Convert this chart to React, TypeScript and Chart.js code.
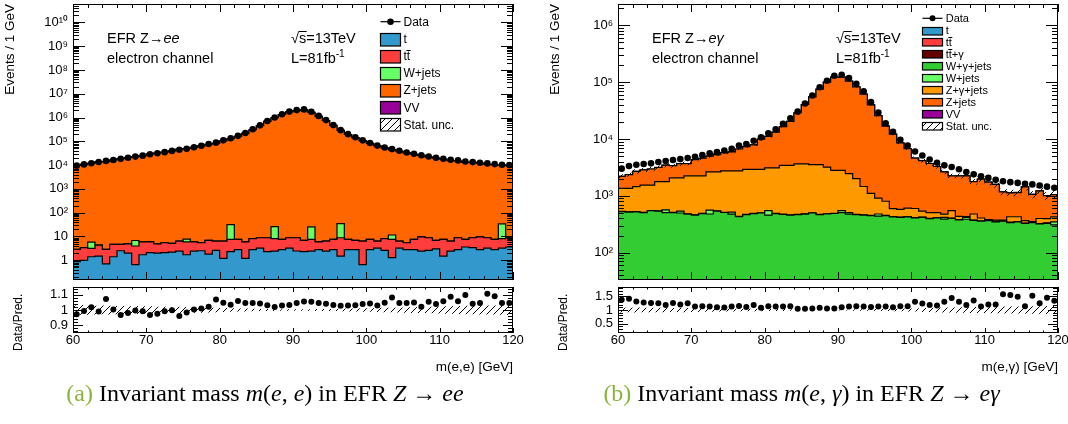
import React, { useEffect, useRef } from 'react';
import { Chart, registerables } from 'chart.js';

Chart.register(...registerables);

const SANS = '"Liberation Sans", Arial, Helvetica, sans-serif';
Chart.defaults.font.family = SANS;

// ---------- axes / binning ----------
const BIN_EDGES = [60, 61, 62, 63, 64, 65, 66, 67, 68, 69, 70, 71, 72, 73, 74, 75, 76, 77, 78, 79, 80, 81, 82, 83, 84, 85, 86, 87, 88, 89, 90, 91, 92, 93, 94, 95, 96, 97, 98, 99, 100, 101, 102, 103, 104, 105, 106, 107, 108, 109, 110, 111, 112, 113, 114, 115, 116, 117, 118, 119, 120];
const X_TICKS = [60, 70, 80, 90, 100, 110, 120];
const Y_TICKS_A = [1, 10, 1e2, 1e3, 1e4, 1e5, 1e6, 1e7, 1e8, 1e9, 1e10];
const Y_TICKS_B = [1e2, 1e3, 1e4, 1e5, 1e6];
const RATIO_TICKS_A = [0.9, 1, 1.1];
const RATIO_TICKS_B = [0.5, 1, 1.5];

// ---------- (a) EFR Z -> ee ----------
const LABELS_A = ['t', 'tt\u0304', 'W+jets', 'Z+jets', 'VV'];
const COLORS_A = ['#3399cc', '#ff3d3d', '#66ff66', '#ff6600', '#990099'];
const T_A = [0.88, 1.0, 1.4, 1.5, 0.7, 1.4, 2.5, 2.0, 0.65, 1.7, 2.1, 2.0, 2.1, 2.2, 2.4, 1.7, 2.4, 2.5, 1.8, 2.6, 1.2, 2.3, 2.8, 1.2, 2.8, 3.2, 2.3, 2.4, 2.8, 3.2, 2.45, 2.3, 2.4, 2.8, 2.4, 2.8, 1.5, 2.8, 2.8, 0.65, 2.8, 3.2, 2.6, 1.3, 3.2, 2.8, 2.8, 2.4, 2.6, 3.0, 1.5, 2.4, 2.8, 3.6, 3.4, 2.8, 3.2, 2.8, 3.2, 3.6];
const TT_A = [1.98, 2.37, 1.75, 2.8, 2.16, 3.22, 2.12, 2.9, 3.31, 4.2, 3.8, 2.9, 3.33, 2.9, 4.0, 4.2, 3.5, 2.93, 5.1, 3.8, 5.2, 5.2, 4.7, 4.7, 5.3, 5.6, 6.5, 5.7, 4.7, 5.6, 6.35, 4.6, 5.1, 3.1, 4.0, 4.7, 7.3, 4.7, 4.1, 5.75, 4.7, 3.2, 5.5, 6.2, 3.2, 2.63, 4.7, 7.1, 6.2, 3.9, 6.0, 4.0, 6.0, 3.9, 5.4, 6.7, 5.6, 4.7, 4.9, 5.2];
const W_A = [0.01, 0.01, 2.6, 0.01, 0.01, 0.01, 0.01, 0.01, 2.8, 0.01, 0.01, 0.01, 0.01, 0.01, 0.01, 1.8, 0.01, 0.01, 0.01, 0.01, 0.01, 24, 0.01, 0.01, 0.01, 0.01, 0.01, 18, 0.01, 0.01, 0.01, 0.01, 18, 0.01, 0.01, 0.01, 26, 0.01, 0.01, 0.01, 0.01, 0.01, 0.01, 4, 0.01, 0.01, 0.01, 0.01, 0.01, 0.01, 0.01, 0.01, 0.01, 0.01, 0.01, 0.01, 0.01, 0.01, 26, 0.01];
const ZJ_A = [9760, 10760, 11800, 13600, 14000, 16400, 18900, 20900, 22900, 25200, 29500, 32300, 35300, 39600, 45800, 49800, 55800, 64400, 75300, 82300, 105000, 129000, 161000, 215000, 306000, 451000, 689000, 980000, 1340000, 1720000, 1960000, 2090000, 1660000, 1120000, 749000, 465000, 287000, 194000, 144000, 106000, 81500, 64100, 52500, 43400, 38300, 32500, 28600, 25400, 21800, 19700, 17600, 15400, 14900, 12900, 12900, 12100, 10700, 10100, 9950, 9570];
const VV_A = [0.12, 0.15, 0.11, 0.18, 0.14, 0.2, 0.16, 0.13, 0.19, 0.22, 0.17, 0.21, 0.25, 0.19, 0.23, 0.28, 0.26, 0.31, 0.35, 0.42, 0.5, 0.61, 0.78, 1.0, 1.4, 2.1, 3.0, 4.2, 5.6, 6.8, 7.1, 6.5, 5.2, 3.8, 2.6, 1.8, 1.2, 0.85, 0.62, 0.48, 0.39, 0.33, 0.3, 0.27, 0.25, 0.22, 0.24, 0.2, 0.19, 0.21, 0.18, 0.17, 0.2, 0.16, 0.15, 0.18, 0.14, 0.16, 0.13, 0.15];
const DATA_A = [9500, 10700, 12000, 13500, 15000, 16500, 18300, 20500, 22800, 25000, 28500, 31500, 35000, 39500, 44000, 49000, 56000, 65000, 77000, 88000, 110000, 134000, 170000, 225000, 320000, 470000, 710000, 1000000, 1380000, 1780000, 2050000, 2200000, 1750000, 1170000, 780000, 480000, 295000, 200000, 148000, 110000, 85000, 66000, 55000, 47000, 40000, 34000, 30000, 26000, 23000, 20500, 18600, 16700, 15800, 14200, 13400, 12600, 11800, 11000, 10400, 10000];
const RATIO_A = [0.973, 0.994, 1.018, 0.990, 1.071, 1.004, 0.967, 0.980, 0.996, 0.992, 0.967, 0.976, 0.992, 0.998, 0.961, 0.984, 1.004, 1.010, 1.022, 1.069, 1.047, 1.035, 1.059, 1.045, 1.045, 1.043, 1.031, 1.020, 1.029, 1.033, 1.045, 1.055, 1.053, 1.045, 1.041, 1.033, 1.027, 1.029, 1.031, 1.039, 1.043, 1.029, 1.047, 1.082, 1.045, 1.045, 1.049, 1.022, 1.053, 1.039, 1.057, 1.086, 1.057, 1.098, 1.041, 1.045, 1.106, 1.090, 1.045, 1.045];
const UNC_A = [0.030, 0.032, 0.030, 0.028, 0.030, 0.027, 0.026, 0.025, 0.026, 0.024, 0.024, 0.022, 0.022, 0.020, 0.021, 0.020, 0.018, 0.018, 0.016, 0.015, 0.013, 0.012, 0.010, 0.009, 0.008, 0.007, 0.006, 0.006, 0.005, 0.005, 0.005, 0.005, 0.005, 0.006, 0.006, 0.007, 0.008, 0.009, 0.010, 0.011, 0.012, 0.013, 0.014, 0.015, 0.016, 0.018, 0.019, 0.020, 0.022, 0.023, 0.024, 0.025, 0.026, 0.027, 0.028, 0.029, 0.030, 0.030, 0.031, 0.032];

// ---------- (b) EFR Z -> e gamma ----------
const LABELS_B = ['t', 'tt\u0304', 'tt\u0304+\u03b3', 'W+\u03b3+jets', 'W+jets', 'Z+\u03b3+jets', 'Z+jets', 'VV'];
const COLORS_B = ['#3399cc', '#ff3d3d', '#660000', '#33cc33', '#66ff66', '#ff9900', '#ff6600', '#990099'];
const T_B = [1.2, 2.1, 1.5, 2.8, 1.9, 2.4, 1.1, 2.6, 3.0, 1.7, 2.2, 1.4, 2.9, 2.0, 2.5, 1.6, 3.1, 2.3, 1.8, 2.7, 2.4, 1.3, 2.8, 3.2, 2.1, 1.9, 2.6, 3.0, 2.2, 2.5, 2.9, 2.0, 1.6, 2.7, 2.3, 3.1, 1.8, 2.4, 2.8, 1.5, 2.6, 2.1, 3.0, 1.9, 2.4, 2.7, 1.4, 2.2, 2.9, 2.5, 1.7, 2.8, 2.3, 3.2, 2.0, 2.6, 1.8, 2.4, 3.0, 2.2];
const TT_B = [4.1, 3.6, 5.2, 4.4, 3.9, 5.8, 4.7, 3.3, 5.1, 4.6, 4.0, 5.5, 4.8, 3.7, 5.3, 4.2, 4.9, 5.6, 3.8, 4.5, 5.0, 4.3, 5.7, 4.1, 3.6, 5.2, 4.8, 4.4, 5.9, 4.6, 3.9, 5.1, 4.7, 5.4, 4.0, 4.5, 5.3, 3.8, 4.9, 5.6, 4.2, 4.8, 3.7, 5.0, 4.6, 5.5, 4.1, 4.3, 5.2, 3.9, 4.7, 5.4, 4.0, 4.4, 5.1, 3.6, 4.8, 5.7, 4.2, 4.5];
const TTG_B = [0.8, 1.1, 0.6, 0.9, 1.3, 0.7, 1.0, 1.2, 0.8, 0.9, 1.1, 0.7, 1.4, 0.9, 1.0, 0.8, 1.2, 0.6, 1.1, 1.3, 0.9, 1.0, 1.2, 0.8, 1.4, 1.1, 0.9, 1.3, 1.0, 1.2, 0.8, 1.1, 0.7, 1.0, 1.3, 0.9, 0.8, 1.2, 1.0, 0.7, 1.1, 0.9, 1.2, 0.8, 1.0, 1.3, 0.7, 0.9, 1.1, 0.8, 1.0, 1.2, 0.9, 0.7, 1.1, 0.8, 1.3, 1.0, 0.9, 1.2];
const WG_B = [520, 510, 515, 500, 540, 530, 500, 500, 490, 470, 450, 480, 470, 530, 500, 470, 420, 460, 480, 490, 450, 480, 460, 450, 460, 470, 490, 460, 470, 480, 500, 470, 460, 450, 440, 430, 440, 420, 410, 420, 400, 410, 390, 400, 380, 390, 370, 380, 360, 350, 360, 340, 350, 330, 340, 320, 330, 310, 320, 300];
const W_B = [5, 5, 5, 5, 5, 5, 60, 5, 40, 5, 5, 5, 80, 5, 5, 40, 5, 5, 5, 5, 90, 5, 5, 5, 5, 5, 5, 5, 5, 5, 40, 30, 5, 5, 5, 40, 5, 5, 5, 5, 5, 5, 5, 5, 30, 5, 5, 30, 5, 5, 5, 5, 5, 5, 5, 5, 5, 5, 5, 40];
const ZG_B = [825, 835, 920, 1035, 995, 1235, 1210, 1565, 1540, 1765, 1785, 1755, 2080, 2095, 2235, 2230, 2315, 2455, 2435, 2425, 2550, 2605, 2975, 2985, 3165, 3155, 3035, 3065, 2725, 2315, 2260, 1950, 1535, 995, 655, 436, 350, 165, 155, 175, 185, 116, 105, 95, 60, 145, 55, 15, 105, 45, 10, 20, 10, 85, 75, 35, 10, 75, 65, 80];
const ZJ_B = [839, 1009, 1238, 1312, 1418, 1374, 1690, 1308, 1606, 1456, 2089, 2337, 2374, 2697, 3007, 3216, 3924, 4423, 4990, 6987, 8002, 10154, 13004, 16983, 25365, 36848, 51531, 71748, 97084, 120190, 119705, 102439, 80923, 60061, 38936, 24961, 16094, 11570, 7995, 6134, 4024, 3609, 3197, 2774, 2162, 1685, 1812, 1805, 1298, 1564, 1363, 1220, 806, 698, 715, 1075, 704, 826, 607, 617];
const VV_B = [3.1, 2.6, 3.8, 2.9, 3.4, 4.1, 2.7, 3.5, 3.0, 3.9, 3.3, 4.4, 3.6, 3.1, 4.8, 3.9, 4.2, 5.0, 4.6, 5.3, 5.8, 6.1, 6.9, 7.5, 8.8, 10.2, 12.5, 15.1, 18.3, 20.6, 21.0, 19.2, 16.4, 13.1, 10.6, 8.9, 7.4, 6.3, 5.6, 5.1, 4.7, 4.3, 4.0, 3.8, 3.5, 3.3, 3.6, 3.1, 2.9, 3.2, 2.8, 3.0, 2.7, 2.5, 2.9, 2.6, 2.4, 2.7, 2.3, 2.5];
const DATA_B = [3010, 3350, 3530, 3630, 3730, 3930, 4090, 4260, 4430, 4620, 4870, 5200, 5630, 5870, 6270, 6700, 7650, 8180, 9350, 10700, 12600, 14900, 18500, 23200, 30300, 42300, 58200, 81300, 106000, 130000, 135000, 118000, 94200, 69200, 44600, 29100, 19000, 13400, 9730, 7650, 6030, 5130, 4370, 3830, 3440, 3210, 2930, 2630, 2390, 2210, 2070, 1910, 1810, 1740, 1690, 1630, 1590, 1520, 1450, 1390];
const RATIO_B = [1.375, 1.420, 1.318, 1.273, 1.261, 1.250, 1.182, 1.261, 1.205, 1.250, 1.125, 1.136, 1.125, 1.102, 1.091, 1.125, 1.148, 1.114, 1.182, 1.080, 1.136, 1.125, 1.125, 1.136, 1.045, 1.045, 1.057, 1.080, 1.057, 1.057, 1.102, 1.125, 1.136, 1.125, 1.114, 1.125, 1.125, 1.102, 1.136, 1.136, 1.307, 1.239, 1.182, 1.170, 1.307, 1.443, 1.307, 1.182, 1.352, 1.125, 1.205, 1.205, 1.580, 1.557, 1.489, 1.136, 1.523, 1.250, 1.455, 1.341];
const UNC_B = [0.09, 0.085, 0.09, 0.08, 0.085, 0.08, 0.08, 0.075, 0.08, 0.07, 0.07, 0.065, 0.065, 0.06, 0.06, 0.055, 0.05, 0.05, 0.045, 0.045, 0.04, 0.035, 0.035, 0.03, 0.03, 0.025, 0.025, 0.02, 0.02, 0.02, 0.02, 0.02, 0.025, 0.025, 0.03, 0.035, 0.04, 0.045, 0.05, 0.055, 0.06, 0.07, 0.075, 0.08, 0.09, 0.09, 0.1, 0.1, 0.11, 0.11, 0.12, 0.12, 0.13, 0.13, 0.13, 0.14, 0.14, 0.14, 0.15, 0.15];

const CAPTION_GREEN = '#8ab43c';

// ---------- helpers ----------
type Part = { t: string; italic?: boolean; sup?: boolean; over?: boolean };

const stepPts = (vals: number[]) => BIN_EDGES.map((x, i) => ({ x, y: vals[Math.min(i, vals.length - 1)] }));
const centerPts = (vals: number[]) => vals.map((y, i) => ({ x: (BIN_EDGES[i] + BIN_EDGES[i + 1]) / 2, y }));
const SUP = '\u2070\u00b9\u00b2\u00b3\u2074\u2075\u2076\u2077\u2078\u2079';
const fmtPow = (v: number) => {
  const e = Math.round(Math.log10(v));
  if (e === 0) return '1';
  if (e === 1) return '10';
  return '10' + String(e).split('').map((d) => SUP[Number(d)]).join('');
};

function makeHatch(size = 7) {
  const c = document.createElement('canvas');
  c.width = size;
  c.height = size;
  const g = c.getContext('2d')!;
  g.strokeStyle = '#000';
  g.lineWidth = 1;
  g.beginPath();
  for (const o of [-size, 0, size]) {
    g.moveTo(o, size);
    g.lineTo(o + size, 0);
  }
  g.stroke();
  return g.createPattern(c, 'repeat')!;
}

function parseLabel(s: string): Part[] {
  const parts: Part[] = [];
  let buf = '';
  for (let i = 0; i < s.length; i++) {
    if (s[i + 1] === '\u0304') {
      if (buf) parts.push({ t: buf });
      buf = '';
      parts.push({ t: s[i], over: true });
      i++;
    } else buf += s[i];
  }
  if (buf) parts.push({ t: buf });
  return parts;
}

function drawRich(ctx: CanvasRenderingContext2D, x: number, y: number, parts: Part[], size: number) {
  let cx = x;
  for (const p of parts) {
    const fs = p.sup ? size * 0.7 : size;
    ctx.font = `${p.italic ? 'italic ' : ''}${fs}px ${SANS}`;
    const yy = p.sup ? y - size * 0.45 : y;
    ctx.fillText(p.t, cx, yy);
    const w = ctx.measureText(p.t).width;
    if (p.over) {
      ctx.save();
      ctx.lineWidth = 1;
      ctx.beginPath();
      const ly = Math.round(y - size * 0.86) + 0.5;
      ctx.moveTo(cx - 0.5, ly);
      ctx.lineTo(cx + w + 0.5, ly);
      ctx.stroke();
      ctx.restore();
    }
    cx += w;
  }
}

const noPad = (s: any) => {
  s.paddingTop = 0;
  s.paddingBottom = 0;
  s.paddingLeft = 0;
  s.paddingRight = 0;
};

function framePlugin(cfg: any) {
  return {
    id: 'rootFrame',
    afterDatasetsDraw(chart: any) {
      const { ctx, chartArea: a, scales } = chart;
      const x = scales.x;
      const y = scales.y;
      ctx.save();
      ctx.strokeStyle = '#000';
      ctx.lineWidth = 1;
      ctx.beginPath();
      for (let v = 60; v <= 120.001; v += 2) {
        const px = Math.round(x.getPixelForValue(v)) + 0.5;
        const major = Math.abs(v % 10) < 1e-6;
        const len = major ? cfg.xMaj : cfg.xMin;
        ctx.moveTo(px, a.bottom);
        ctx.lineTo(px, a.bottom - len);
        ctx.moveTo(px, a.top);
        ctx.lineTo(px, a.top + len);
      }
      const yt: { v: number; major: boolean }[] = [];
      if (cfg.log) {
        for (let e = Math.floor(Math.log10(y.min)); e <= Math.ceil(Math.log10(y.max)); e++) {
          for (let m = 1; m <= 9; m++) {
            const v = m * Math.pow(10, e);
            if (v >= y.min && v <= y.max) yt.push({ v, major: m === 1 });
          }
        }
      } else {
        const s = cfg.minorStep;
        for (let k = Math.ceil(y.min / s - 1e-6); k * s <= y.max + 1e-9; k++) {
          const v = k * s;
          const r = v / cfg.majorStep;
          yt.push({ v, major: Math.abs(r - Math.round(r)) < 1e-6 });
        }
      }
      for (const t of yt) {
        const py = Math.round(y.getPixelForValue(t.v)) + 0.5;
        const len = t.major ? cfg.yMaj : cfg.yMin;
        ctx.moveTo(a.left, py);
        ctx.lineTo(a.left + len, py);
        ctx.moveTo(a.right, py);
        ctx.lineTo(a.right - len, py);
      }
      ctx.stroke();
      ctx.strokeRect(Math.round(a.left) + 0.5, Math.round(a.top) + 0.5, Math.round(a.right - a.left) - 1, Math.round(a.bottom - a.top) - 1);
      ctx.restore();
    },
  };
}

function annotPlugin(spec: any, hatch: CanvasPattern) {
  return {
    id: 'annot',
    afterDraw(chart: any) {
      const { ctx, chartArea: a } = chart;
      ctx.save();
      ctx.fillStyle = '#000';
      ctx.strokeStyle = '#000';
      ctx.textAlign = 'left';
      ctx.textBaseline = 'alphabetic';
      for (const line of spec.texts) drawRich(ctx, a.left + line.dx, line.y, line.parts, line.size);
      const L = spec.legend;
      const items = [
        { label: 'Data', kind: 'data', color: '#000' },
        ...spec.series.map((s: any) => ({ label: s.label, kind: 'box', color: s.color })),
        { label: 'Stat. unc.', kind: 'hatch', color: '#fff' },
      ];
      items.forEach((it: any, k: number) => {
        const cy = L.y0 + k * L.dy;
        const bx = Math.round(a.left + L.dx) + 0.5;
        if (it.kind === 'data') {
          ctx.lineWidth = 1.2;
          ctx.beginPath();
          ctx.moveTo(bx, cy);
          ctx.lineTo(bx + L.w, cy);
          ctx.stroke();
          ctx.beginPath();
          ctx.arc(bx + L.w / 2, cy, L.r, 0, Math.PI * 2);
          ctx.fill();
        } else {
          const by = Math.round(cy - L.h / 2) + 0.5;
          ctx.fillStyle = it.kind === 'hatch' ? '#fff' : it.color;
          ctx.fillRect(bx, by, L.w, L.h);
          if (it.kind === 'hatch') {
            ctx.fillStyle = hatch;
            ctx.fillRect(bx, by, L.w, L.h);
          }
          ctx.lineWidth = 1.2;
          ctx.strokeRect(bx, by, L.w, L.h);
        }
        ctx.fillStyle = '#000';
        drawRich(ctx, a.left + L.tx, cy + L.size * 0.36, parseLabel(it.label), L.size);
      });
      ctx.restore();
    },
  };
}

function buildMain(canvas: HTMLCanvasElement, spec: any) {
  const hatch = makeHatch();
  const total = spec.data.map((_: number, i: number) => spec.series.reduce((s: number, c: any) => s + c.values[i], 0));
  const datasets: any[] = [
    { label: 'Data', data: centerPts(spec.data), showLine: false, pointRadius: 3.3, pointBackgroundColor: '#000', pointBorderWidth: 0, stack: 'data', order: 0 },
    { label: 'unc-', data: stepPts(total.map((t: number, i: number) => t * (1 - spec.unc[i]))), stepped: true, pointRadius: 0, borderColor: 'rgba(0,0,0,0)', borderWidth: 1, fill: false, stack: 'lo', order: 1 },
    { label: 'Stat. unc.', data: stepPts(total.map((t: number, i: number) => t * (1 + spec.unc[i]))), stepped: true, pointRadius: 0, borderColor: 'rgba(0,0,0,0)', borderWidth: 1, fill: 1, backgroundColor: hatch, stack: 'hi', order: 1 },
  ];
  spec.series.forEach((c: any, k: number) => {
    datasets.push({
      label: c.label,
      data: stepPts(c.values),
      stepped: true,
      pointRadius: 0,
      borderColor: '#000',
      borderWidth: 1.2,
      backgroundColor: c.color,
      fill: k === 0 ? 'start' : 3 + k - 1,
      stack: 'mc',
      order: 2,
    });
  });
  return new Chart(canvas, {
    type: 'line',
    data: { datasets },
    plugins: [framePlugin({ log: true, xMaj: 8, xMin: 4, yMaj: 12, yMin: 6 }), annotPlugin(spec, hatch)],
    options: {
      animation: false,
      responsive: false,
      maintainAspectRatio: false,
      events: [],
      layout: { padding: { left: 0, right: spec.padRight, top: 3, bottom: 1 } },
      plugins: { legend: { display: false }, tooltip: { enabled: false } },
      elements: { line: { tension: 0 } },
      scales: {
        x: { type: 'linear', min: 60, max: 120, display: false },
        y: {
          type: 'logarithmic',
          min: spec.yMin,
          max: spec.yMax,
          stacked: true,
          position: 'left',
          afterFit: (s: any) => { s.width = 73; noPad(s); },
          afterBuildTicks: (s: any) => { s.ticks = spec.yTicks.map((v: number) => ({ value: v })); },
          grid: { display: false, drawTicks: false },
          border: { display: false },
          ticks: { color: '#000', font: { family: SANS, size: 13 }, padding: 5, autoSkip: false, callback: (v: any) => fmtPow(Number(v)) },
          title: { display: true, text: 'Events / 1 GeV', align: 'end', color: '#000', font: { family: SANS, size: 13.5 }, padding: { top: 2.1, bottom: 0 } },
        },
      },
    } as any,
  });
}

function buildRatio(canvas: HTMLCanvasElement, spec: any) {
  const hatch = makeHatch();
  const datasets: any[] = [
    { label: 'Data/Pred.', data: centerPts(spec.ratio), showLine: false, pointRadius: 3, pointBackgroundColor: '#000', pointBorderWidth: 0, order: 0 },
    { label: 'unc-', data: stepPts(spec.unc.map((u: number) => 1 - u)), stepped: true, pointRadius: 0, borderColor: 'rgba(0,0,0,0)', borderWidth: 1, fill: false, order: 1 },
    { label: 'Stat. unc.', data: stepPts(spec.unc.map((u: number) => 1 + u)), stepped: true, pointRadius: 0, borderColor: 'rgba(0,0,0,0)', borderWidth: 1, fill: 1, backgroundColor: hatch, order: 1 },
  ];
  return new Chart(canvas, {
    type: 'line',
    data: { datasets },
    plugins: [framePlugin({ log: false, xMaj: 5, xMin: 2.5, yMaj: 10, yMin: 5, minorStep: spec.rMinor, majorStep: spec.rMajor })],
    options: {
      animation: false,
      responsive: false,
      maintainAspectRatio: false,
      events: [],
      layout: { padding: { left: 0, right: spec.padRight, top: 0, bottom: 0 } },
      plugins: { legend: { display: false }, tooltip: { enabled: false } },
      elements: { line: { tension: 0 } },
      scales: {
        x: {
          type: 'linear',
          min: 60,
          max: 120,
          afterFit: (s: any) => { s.height = 50; noPad(s); },
          afterBuildTicks: (s: any) => { s.ticks = X_TICKS.map((v) => ({ value: v })); },
          grid: { display: false, drawTicks: false },
          border: { display: false },
          ticks: { color: '#000', font: { family: SANS, size: 13 }, padding: 0, autoSkip: false, maxRotation: 0, callback: (v: any) => String(v) },
          title: { display: true, text: spec.xTitle, align: 'end', color: '#000', font: { family: SANS, size: 13.5 }, padding: { top: 0, bottom: 8 } },
        },
        y: {
          type: 'linear',
          min: spec.rMin,
          max: spec.rMax,
          afterFit: (s: any) => { s.width = 73; noPad(s); },
          afterBuildTicks: (s: any) => { s.ticks = spec.rTicks.map((v: number) => ({ value: v })); },
          grid: { display: false, drawTicks: false },
          border: { display: false },
          ticks: { color: '#000', font: { family: SANS, size: 13 }, padding: 5, autoSkip: false, callback: (v: any) => String(v) },
          title: { display: true, text: 'Data/Pred.  ', align: 'end', color: '#000', font: { family: SANS, size: 12 }, padding: { top: 11.5, bottom: 0 } },
        },
      },
    } as any,
  });
}

const SPEC_A = {
  padRight: 17,
  series: LABELS_A.map((label, k) => ({ label, color: COLORS_A[k], values: [T_A, TT_A, W_A, ZJ_A, VV_A][k] })),
  data: DATA_A,
  ratio: RATIO_A,
  unc: UNC_A,
  yMin: 0.1476,
  yMax: 5.94e10,
  yTicks: Y_TICKS_A,
  rMin: 0.85,
  rMax: 1.15,
  rTicks: RATIO_TICKS_A,
  rMinor: 0.02,
  rMajor: 0.1,
  xTitle: 'm(e,e) [GeV]',
  texts: [
    { dx: 34, y: 43.3, size: 14.5, parts: [{ t: 'EFR Z\u2192' }, { t: 'ee', italic: true }] },
    { dx: 34, y: 63.3, size: 14.5, parts: [{ t: 'electron channel' }] },
    { dx: 218, y: 43.3, size: 14.5, parts: [{ t: '\u221a' }, { t: 's', over: true }, { t: '=13TeV' }] },
    { dx: 218, y: 63.3, size: 14.5, parts: [{ t: 'L=81fb' }, { t: '-1', sup: true }] },
  ],
  legend: { dx: 306.5, w: 20, h: 12.5, y0: 21.7, dy: 17.1, tx: 330.5, size: 12, r: 3.3 },
};

const SPEC_B = {
  padRight: 10,
  series: LABELS_B.map((label, k) => ({ label, color: COLORS_B[k], values: [T_B, TT_B, TTG_B, WG_B, W_B, ZG_B, ZJ_B, VV_B][k] })),
  data: DATA_B,
  ratio: RATIO_B,
  unc: UNC_B,
  yMin: 33,
  yMax: 2.38e6,
  yTicks: Y_TICKS_B,
  rMin: 0.15,
  rMax: 1.85,
  rTicks: RATIO_TICKS_B,
  rMinor: 0.1,
  rMajor: 0.5,
  xTitle: 'm(e,\u03b3) [GeV]',
  texts: [
    { dx: 34, y: 43.3, size: 14.5, parts: [{ t: 'EFR Z\u2192' }, { t: 'e\u03b3', italic: true }] },
    { dx: 34, y: 63.3, size: 14.5, parts: [{ t: 'electron channel' }] },
    { dx: 218, y: 43.3, size: 14.5, parts: [{ t: '\u221a' }, { t: 's', over: true }, { t: '=13TeV' }] },
    { dx: 218, y: 63.3, size: 14.5, parts: [{ t: 'L=81fb' }, { t: '-1', sup: true }] },
  ],
  legend: { dx: 303.5, w: 20, h: 7.5, y0: 18.3, dy: 11.97, tx: 327.7, size: 11, r: 3 },
};

export default function App() {
  const mainA = useRef<HTMLCanvasElement>(null);
  const ratA = useRef<HTMLCanvasElement>(null);
  const mainB = useRef<HTMLCanvasElement>(null);
  const ratB = useRef<HTMLCanvasElement>(null);

  useEffect(() => {
    const charts = [
      buildMain(mainA.current!, SPEC_A),
      buildRatio(ratA.current!, SPEC_A),
      buildMain(mainB.current!, SPEC_B),
      buildRatio(ratB.current!, SPEC_B),
    ];
    return () => charts.forEach((c) => c.destroy());
  }, []);

  const cv = (left: number, top: number, w: number, h: number): React.CSSProperties => ({ position: 'absolute', left, top, width: w, height: h });
  const capStyle = (left: number, width: number): React.CSSProperties => ({
    position: 'absolute', left, top: 379, width, textAlign: 'center', whiteSpace: 'nowrap',
    fontFamily: '"Liberation Serif", "Times New Roman", serif', fontSize: 24, lineHeight: '28px', color: '#000',
  });

  return (
    <div style={{ position: 'absolute', left: 0, top: 0, width: 1068, height: 424, background: '#fff', overflow: 'hidden' }}>
      <canvas ref={mainA} width={530} height={284} style={cv(0, 0, 530, 284)} />
      <canvas ref={ratA} width={530} height={100} style={cv(0, 283, 530, 100)} />
      <canvas ref={mainB} width={523} height={284} style={cv(545, 0, 523, 284)} />
      <canvas ref={ratB} width={523} height={100} style={cv(545, 283, 523, 100)} />
      <div style={capStyle(0, 530)}>
        <span style={{ color: CAPTION_GREEN }}>(a)</span> Invariant mass <i>m</i>(<i>e</i>, <i>e</i>) in EFR <i>Z</i> {'\u2192'} <i>ee</i>
      </div>
      <div style={capStyle(535, 533)}>
        <span style={{ color: CAPTION_GREEN }}>(b)</span> Invariant mass <i>m</i>(<i>e</i>, <i>{'\u03b3'}</i>) in EFR <i>Z</i> {'\u2192'} <i>e{'\u03b3'}</i>
      </div>
    </div>
  );
}
